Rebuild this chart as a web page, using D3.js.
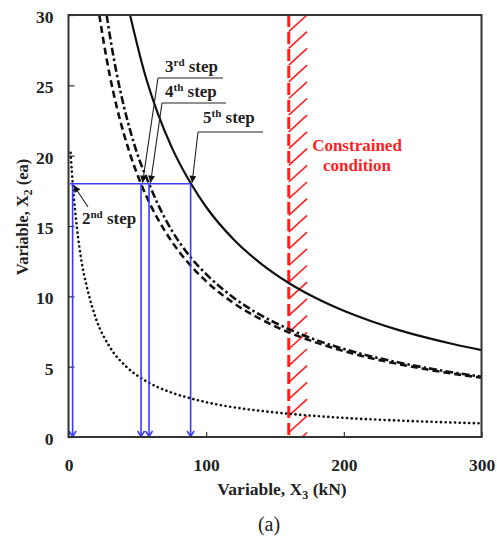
<!DOCTYPE html>
<html>
<head>
<meta charset="utf-8">
<script src="https://cdn.jsdelivr.net/npm/d3@7"></script>
<style>
body { margin: 0; background: #fff; }
svg text { font-family: "Liberation Serif", Tinos, "Times New Roman", Times, serif; }
.axis .tick text { font-weight: bold; font-size: 17.5px; fill: #222; }
.axis .tick line { stroke: #333; stroke-width: 1.2; }
.lbl { font-weight: bold; font-size: 17px; fill: #222; }
</style>
</head>
<body>
<div id="chart"></div>
<script>
// curves (X3 in kN, X2 in ea)
const solidX3 = [44.7, 55, 65, 75, 89, 100, 120, 140, 160, 180, 200, 220, 240, 260, 280, 300];
const solidX2 = [30, 25.97, 22.97, 20.59, 18.0, 16.35, 14.04, 12.31, 10.95, 9.86, 8.97, 8.23, 7.6, 7.06, 6.59, 6.18];

const dashX3 = [22.4, 25, 30, 35, 40, 45, 52.7, 60, 70, 80, 90, 100, 120, 140, 160, 180, 200, 220, 240, 260, 280, 300];
const dashX2 = [30, 28.4, 25.7, 23.48, 21.62, 20.03, 18.0, 16.41, 14.65, 13.22, 12.05, 11.07, 9.52, 8.36, 7.44, 6.71, 6.11, 5.6, 5.18, 4.81, 4.49, 4.22];

const dashDotX3 = [27.7, 30, 35, 40, 45, 50, 58.5, 65, 75, 89, 100, 120, 140, 160, 180, 200, 220, 240, 260, 280, 300];
const dashDotX2 = [30, 28.56, 25.84, 23.6, 21.72, 20.12, 18.0, 16.54, 14.69, 12.74, 11.58, 9.9, 8.64, 7.67, 6.89, 6.26, 5.73, 5.29, 4.91, 4.58, 4.29];

const dotX3 = [1.5, 3.5, 6, 9.6, 13, 20, 30, 42, 55, 75, 88.7, 107, 125, 160, 200, 250, 300];
const dotX2 = [20.2, 17.5, 15.0, 12.4, 10.8, 8.4, 6.4, 5.0, 4.05, 3.15, 2.75, 2.33, 2.04, 1.65, 1.36, 1.13, 0.97];

// search steps (blue) at X2 = 18
const stepX2 = 18;
const stepX3 = [3, 52.7, 58.5, 88.7];
const stepNames = [["2", "nd"], ["3", "rd"], ["4", "th"], ["5", "th"]];
const horizFrom = 1;

const constraintX3 = 160;
const constraintText = ["Constrained", "condition"];

const xTicks = [0, 100, 200, 300];
const yTicks = [0, 5, 10, 15, 20, 25, 30];

const W = 497, H = 538;
const margin = { top: 15, left: 68.5, right: 15.5, bottom: 101 };
const width = W - margin.left - margin.right;
const height = H - margin.top - margin.bottom;

const svg = d3.select("#chart").append("svg")
    .attr("width", W).attr("height", H);

const defs = svg.append("defs");
defs.append("clipPath").attr("id", "clip")
    .append("rect").attr("width", width).attr("height", height);
defs.append("marker")
    .attr("id", "head")
    .attr("viewBox", "0 0 10 10")
    .attr("refX", 10).attr("refY", 5)
    .attr("markerWidth", 9).attr("markerHeight", 7)
    .attr("markerUnits", "userSpaceOnUse")
    .attr("orient", "auto")
    .append("path").attr("d", "M0,0 L10,5 L0,10 z").attr("fill", "#111");

const g = svg.append("g")
    .attr("transform", `translate(${margin.left},${margin.top})`);

const x = d3.scaleLinear().domain([0, 300]).range([0, width]);
const y = d3.scaleLinear().domain([0, 30]).range([height, 0]);

// axes
g.append("g").attr("class", "axis")
    .attr("transform", `translate(0,${height})`)
    .call(d3.axisBottom(x).tickValues(xTicks).tickSize(-5).tickPadding(22).tickFormat(d3.format("d")))
    .call(a => a.select(".domain").remove());

g.append("g").attr("class", "axis")
    .call(d3.axisLeft(y).tickValues(yTicks).tickSize(-6).tickPadding(15).tickFormat(d3.format("d")))
    .call(a => a.select(".domain").remove())
    .call(a => a.selectAll(".tick text").attr("dy", "0.42em"));

const plot = g.append("g").attr("clip-path", "url(#clip)");

// constraint line with hatch
const xc = x(constraintX3);
plot.append("line")
    .attr("x1", xc).attr("x2", xc).attr("y1", 0).attr("y2", height)
    .attr("stroke", "#ff1f1f").attr("stroke-width", 3)
    .attr("stroke-dasharray", "12 5");
const hatch = d3.range(0, height, 16.7);
plot.selectAll(".hatch").data(hatch).join("line")
    .attr("class", "hatch")
    .attr("x1", xc).attr("y1", d => d + 16.7)
    .attr("x2", xc + 18.3).attr("y2", d => d)
    .attr("stroke", "#ff1f1f").attr("stroke-width", 1.6);

// curves
const line = d3.line().x(d => x(d[0])).y(d => y(d[1])).curve(d3.curveMonotoneX);
const zip = (a, b) => a.map((v, i) => [v, b[i]]);

const curves = [
    { pts: zip(solidX3, solidX2), dash: null, w: 2.2, cap: "butt" },
    { pts: zip(dashX3, dashX2), dash: "7 4", w: 2.6, cap: "butt" },
    { pts: zip(dashDotX3, dashDotX2), dash: "8 3 2.5 3", w: 2.6, cap: "butt" },
    { pts: zip(dotX3, dotX2), dash: "0.1 4.6", w: 2.6, cap: "round" }
];
plot.selectAll(".curve").data(curves).join("path")
    .attr("class", "curve")
    .attr("d", d => line(d.pts))
    .attr("fill", "none")
    .attr("stroke", "#111")
    .attr("stroke-width", d => d.w)
    .attr("stroke-linecap", d => d.cap)
    .attr("stroke-dasharray", d => d.dash);

// blue search lines
const blue = "#3a3aff";
const ys = y(stepX2);
g.append("line")
    .attr("x1", x(horizFrom)).attr("x2", x(d3.max(stepX3)))
    .attr("y1", ys).attr("y2", ys)
    .attr("stroke", blue).attr("stroke-width", 1.6);
g.selectAll(".vstep").data(stepX3).join("line")
    .attr("class", "vstep")
    .attr("x1", d => x(d)).attr("x2", d => x(d))
    .attr("y1", ys).attr("y2", height)
    .attr("stroke", blue).attr("stroke-width", 1.6);
g.selectAll(".vhead").data(stepX3).join("path")
    .attr("class", "vhead")
    .attr("d", d => `M${x(d) - 3.5},${height - 6} L${x(d)},${height - 0.5} L${x(d) + 3.5},${height - 6}`)
    .attr("fill", "none").attr("stroke", blue).attr("stroke-width", 1.5);

// frame
g.append("rect")
    .attr("width", width).attr("height", height)
    .attr("fill", "none").attr("stroke", "#333").attr("stroke-width", 2);

// step labels with leaders
const labelPos = [
    { tx: 82 - margin.left, ty: 224 - margin.top, from: [88 - margin.left, 207 - margin.top], under: null },
    { tx: 165 - margin.left, ty: 72 - margin.top, from: [158 - margin.left, 78 - margin.top], under: 223 - margin.left },
    { tx: 165 - margin.left, ty: 97 - margin.top, from: [162 - margin.left, 103 - margin.top], under: 226 - margin.left },
    { tx: 203 - margin.left, ty: 123 - margin.top, from: [198 - margin.left, 132 - margin.top], under: 263 - margin.left }
];
const ann = g.append("g");
stepNames.forEach((s, i) => {
    const p = labelPos[i];
    const t = ann.append("text").attr("class", "lbl").attr("x", p.tx).attr("y", p.ty);
    t.append("tspan").text(s[0]);
    t.append("tspan").attr("dy", -6.5).attr("font-size", 11).text(s[1]);
    t.append("tspan").attr("dy", 6.5).text(" step");
    if (p.under !== null) {
        ann.append("line")
            .attr("x1", p.from[0]).attr("x2", p.under)
            .attr("y1", p.from[1]).attr("y2", p.from[1])
            .attr("stroke", "#222").attr("stroke-width", 1.1);
    }
    const tipX = x(stepX3[i]) + (i === 0 ? 1 : 1.5);
    const tipY = ys + (i === 0 ? 1.5 : -1);
    ann.append("line")
        .attr("x1", p.from[0]).attr("y1", p.from[1])
        .attr("x2", tipX).attr("y2", tipY)
        .attr("stroke", "#222").attr("stroke-width", 1.1)
        .attr("marker-end", "url(#head)");
});

// constraint label
const ct = g.append("text").attr("class", "lbl")
    .style("fill", "#ff1f1f")
    .attr("text-anchor", "middle");
constraintText.forEach((s, i) => {
    ct.append("tspan").attr("x", 357 - margin.left).attr("y", 151 - margin.top + i * 20).text(s);
});

// axis titles
const xt = svg.append("text").attr("class", "lbl").style("font-size", "17.5px")
    .attr("text-anchor", "middle").attr("x", 282).attr("y", 495);
xt.append("tspan").text("Variable, X");
xt.append("tspan").attr("dy", 4).attr("font-size", 12).text("3");
xt.append("tspan").attr("dy", -4).text(" (kN)");

const yt = svg.append("text").attr("class", "lbl").style("font-size", "16.5px")
    .attr("text-anchor", "middle")
    .attr("transform", "translate(28,217) rotate(-90)");
yt.append("tspan").text("Variable, X");
yt.append("tspan").attr("dy", 4).attr("font-size", 11.5).text("2");
yt.append("tspan").attr("dy", -4).text(" (ea)");

svg.append("text").attr("x", 269).attr("y", 531)
    .attr("text-anchor", "middle").attr("font-size", 20).attr("fill", "#222")
    .text("(a)");
</script>
</body>
</html>
